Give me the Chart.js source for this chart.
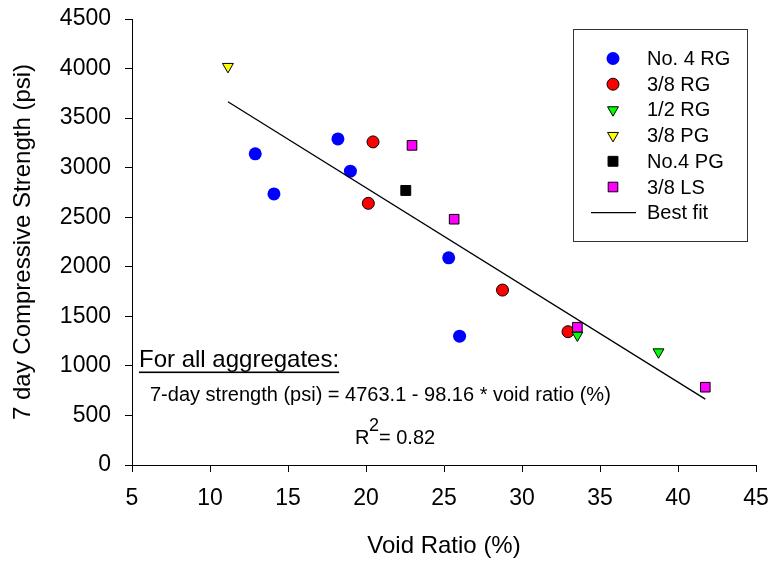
<!DOCTYPE html>
<html>
<head>
<meta charset="utf-8">
<title>7 day strength vs void ratio</title>
<script src="https://cdn.jsdelivr.net/npm/chart.js@4.4.0/dist/chart.umd.min.js"></script>
<style>
  html, body { margin: 0; padding: 0; background: #fff; }
  #wrap { width: 769px; height: 562px; }
</style>
</head>
<body>
<div id="wrap"><canvas id="chart" width="769" height="562"></canvas></div>
<script>
// ---- data ----
const xTicks = [5, 10, 15, 20, 25, 30, 35, 40, 45];
const yTicks = [0, 500, 1000, 1500, 2000, 2500, 3000, 3500, 4000, 4500];

const seriesNames = ['No. 4 RG', '3/8 RG', '1/2 RG', '3/8 PG', 'No.4 PG', '3/8 LS'];

const no4rgX = [12.9, 14.1, 18.2, 19.0, 25.3, 26.0];
const no4rgY = [3140, 2735, 3290, 2965, 2090, 1300];

const rg38X = [20.45, 20.15, 28.75, 32.95];
const rg38Y = [3260, 2640, 1765, 1345];

const rg12X = [33.55, 38.75];
const rg12Y = [1310, 1140];

const pg38X = [11.15];
const pg38Y = [4020];

const pg4X = [22.55];
const pg4Y = [2770];

const ls38X = [22.95, 25.65, 33.55, 41.75];
const ls38Y = [3225, 2480, 1390, 785];

// best fit line end points
const fitX = [11.15, 41.75];
const fitY = [3665, 665];

const FONT = "'Liberation Sans', Arial, Helvetica, sans-serif";

function pts(xs, ys) {
    return xs.map((x, i) => ({ x: x, y: ys[i] }));
}

// marker styles per series
const markers = [
    { style: 'circle',   radius: 6.5, rotation: 0,   fill: '#0000ff', border: '#0000ff', bw: 0 },
    { style: 'circle',   radius: 6,   rotation: 0,   fill: '#ff0000', border: '#000000', bw: 1 },
    { style: 'triangle', radius: 6.3, rotation: 180, fill: '#00ff00', border: '#000000', bw: 1 },
    { style: 'triangle', radius: 6.3, rotation: 180, fill: '#ffff00', border: '#000000', bw: 1 },
    { style: 'rect',     radius: 7,   rotation: 0,   fill: '#000000', border: '#000000', bw: 1 },
    { style: 'rect',     radius: 6.8, rotation: 0,   fill: '#ff00ff', border: '#000000', bw: 1 }
];

const seriesData = [
    pts(no4rgX, no4rgY),
    pts(rg38X, rg38Y),
    pts(rg12X, rg12Y),
    pts(pg38X, pg38Y),
    pts(pg4X, pg4Y),
    pts(ls38X, ls38Y)
];

const datasets = seriesData.map((d, i) => ({
    label: seriesNames[i],
    data: d,
    pointStyle: markers[i].style,
    pointRadius: markers[i].radius,
    pointRotation: markers[i].rotation,
    backgroundColor: markers[i].fill,
    borderColor: markers[i].border,
    pointBorderWidth: markers[i].bw,
    pointHoverRadius: markers[i].radius,
    order: 10 - i
}));

datasets.push({
    label: 'Best fit',
    data: pts(fitX, fitY),
    showLine: true,
    borderColor: '#000',
    borderWidth: 1.3,
    pointRadius: 0,
    pointHoverRadius: 0,
    order: 0
});

// draw a marker by hand (legend)
function drawMarker(ctx, m, x, y) {
    ctx.save();
    ctx.fillStyle = m.fill;
    ctx.strokeStyle = m.border;
    ctx.lineWidth = m.bw;
    ctx.beginPath();
    const r = m.radius;
    if (m.style === 'circle') {
        ctx.arc(x, y, r, 0, Math.PI * 2);
    } else if (m.style === 'triangle') {
        // pointing down
        for (let k = 0; k < 3; k++) {
            const a = Math.PI / 2 + k * 2 * Math.PI / 3;
            const px = x + Math.cos(a) * r, py = y + Math.sin(a) * r;
            if (k === 0) ctx.moveTo(px, py); else ctx.lineTo(px, py);
        }
        ctx.closePath();
    } else {
        const s = r * Math.SQRT1_2;
        ctx.rect(x - s, y - s, 2 * s, 2 * s);
    }
    ctx.fill();
    if (m.bw > 0) ctx.stroke();
    ctx.restore();
}

// legend box + text notes
const notesPlugin = {
    id: 'notes',
    afterDraw(chart) {
        const ctx = chart.ctx;
        ctx.save();

        // legend box
        ctx.strokeStyle = '#333';
        ctx.lineWidth = 1;
        ctx.strokeRect(573.5, 29.5, 174, 212);

        ctx.font = '20px ' + FONT;
        ctx.fillStyle = '#000';
        ctx.textAlign = 'left';
        ctx.textBaseline = 'middle';
        const rowY0 = 58.5, rowStep = 25.7;
        seriesNames.forEach((name, i) => {
            const y = rowY0 + i * rowStep;
            drawMarker(ctx, markers[i], 613, y);
            ctx.fillText(name, 647, y + 1);
        });
        const yFit = rowY0 + 6 * rowStep;
        ctx.beginPath();
        ctx.strokeStyle = '#000';
        ctx.lineWidth = 1.3;
        ctx.moveTo(591, yFit);
        ctx.lineTo(636, yFit);
        ctx.stroke();
        ctx.fillText('Best fit', 647, yFit + 1);

        // annotation
        ctx.textBaseline = 'alphabetic';
        ctx.font = '24px ' + FONT;
        const head = 'For all aggregates:';
        ctx.fillText(head, 139, 366.5);
        const hw = ctx.measureText(head).width;
        ctx.fillRect(139, 371.5, hw, 1.6);

        ctx.font = '20px ' + FONT;
        ctx.fillText('7-day strength (psi) = 4763.1 - 98.16 * void ratio (%)', 150, 400.5);

        ctx.fillText('R', 355, 443.5);
        ctx.font = '18px ' + FONT;
        ctx.fillText('2', 369, 430.5);
        ctx.font = '20px ' + FONT;
        ctx.fillText('= 0.82', 379, 443.5);

        ctx.restore();
    }
};

const tickFont = { family: FONT, size: 23, lineHeight: 1.2 };
const titleFont = { family: FONT, size: 24, lineHeight: 1.2 };
const plainNum = v => String(v);

new Chart(document.getElementById('chart'), {
    type: 'scatter',
    data: { datasets: datasets },
    options: {
        responsive: false,
        devicePixelRatio: 1,
        animation: false,
        events: [],
        layout: { padding: { top: 19, right: 13, left: 0, bottom: 0 } },
        plugins: {
            legend: { display: false },
            tooltip: { enabled: false }
        },
        scales: {
            x: {
                type: 'linear',
                min: xTicks[0],
                max: xTicks[xTicks.length - 1],
                afterBuildTicks: s => { s.ticks = xTicks.map(v => ({ value: v })); },
                afterFit: s => { s.height = 97; s.paddingLeft = 0; s.paddingRight = 0; },
                ticks: { color: '#000', font: tickFont, padding: 13, maxRotation: 0, callback: plainNum },
                grid: { drawOnChartArea: false, drawTicks: true, tickLength: 7, tickColor: '#000', tickWidth: 1 },
                border: { display: true, color: '#000', width: 1 },
                title: { display: true, text: 'Void Ratio (%)', color: '#000', font: titleFont, padding: { top: 0, bottom: 1 } }
            },
            y: {
                type: 'linear',
                min: yTicks[0],
                max: yTicks[yTicks.length - 1],
                afterBuildTicks: s => { s.ticks = yTicks.map(v => ({ value: v })); },
                afterFit: s => { s.width = 132; s.paddingTop = 0; s.paddingBottom = 0; },
                ticks: { color: '#000', font: tickFont, padding: 14, callback: plainNum },
                grid: { drawOnChartArea: false, drawTicks: true, tickLength: 7, tickColor: '#000', tickWidth: 1 },
                border: { display: true, color: '#000', width: 1 },
                title: { display: true, text: '7 day Compressive Strength (psi)', color: '#000', font: titleFont, padding: { top: 9, bottom: 0 } }
            }
        }
    },
    plugins: [notesPlugin]
});
</script>
</body>
</html>
